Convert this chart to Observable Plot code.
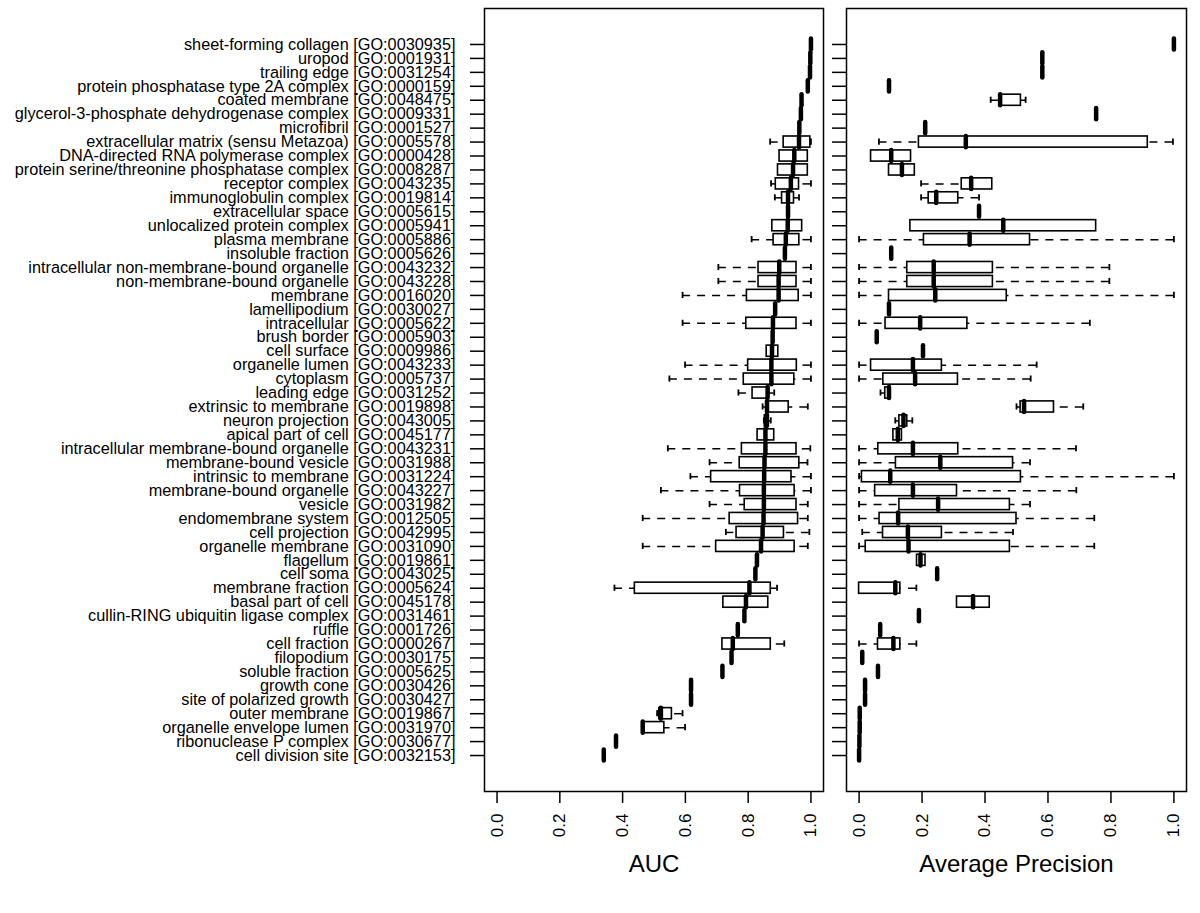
<!DOCTYPE html>
<html>
<head>
<meta charset="utf-8">
<script src="https://cdn.jsdelivr.net/npm/d3@7"></script>
<script src="https://cdn.jsdelivr.net/npm/@observablehq/plot@0.6"></script>
<style>
  html, body { margin: 0; padding: 0; background: white; }
  #wrap { position: relative; width: 1200px; height: 913px; font-family: 'Liberation Sans', Arial, sans-serif; }
  #left, #right { position: absolute; top: 0; }
  #left { left: 0; }
  #right { left: 820px; }
</style>
</head>
<body>
<div id="wrap"><div id="left"></div><div id="right"></div></div>
<script>
const categories = [
  "sheet-forming collagen [GO:0030935]",
  "uropod [GO:0001931]",
  "trailing edge [GO:0031254]",
  "protein phosphatase type 2A complex [GO:0000159]",
  "coated membrane [GO:0048475]",
  "glycerol-3-phosphate dehydrogenase complex [GO:0009331]",
  "microfibril [GO:0001527]",
  "extracellular matrix (sensu Metazoa) [GO:0005578]",
  "DNA-directed RNA polymerase complex [GO:0000428]",
  "protein serine/threonine phosphatase complex [GO:0008287]",
  "receptor complex [GO:0043235]",
  "immunoglobulin complex [GO:0019814]",
  "extracellular space [GO:0005615]",
  "unlocalized protein complex [GO:0005941]",
  "plasma membrane [GO:0005886]",
  "insoluble fraction [GO:0005626]",
  "intracellular non-membrane-bound organelle [GO:0043232]",
  "non-membrane-bound organelle [GO:0043228]",
  "membrane [GO:0016020]",
  "lamellipodium [GO:0030027]",
  "intracellular [GO:0005622]",
  "brush border [GO:0005903]",
  "cell surface [GO:0009986]",
  "organelle lumen [GO:0043233]",
  "cytoplasm [GO:0005737]",
  "leading edge [GO:0031252]",
  "extrinsic to membrane [GO:0019898]",
  "neuron projection [GO:0043005]",
  "apical part of cell [GO:0045177]",
  "intracellular membrane-bound organelle [GO:0043231]",
  "membrane-bound vesicle [GO:0031988]",
  "intrinsic to membrane [GO:0031224]",
  "membrane-bound organelle [GO:0043227]",
  "vesicle [GO:0031982]",
  "endomembrane system [GO:0012505]",
  "cell projection [GO:0042995]",
  "organelle membrane [GO:0031090]",
  "flagellum [GO:0019861]",
  "cell soma [GO:0043025]",
  "membrane fraction [GO:0005624]",
  "basal part of cell [GO:0045178]",
  "cullin-RING ubiquitin ligase complex [GO:0031461]",
  "ruffle [GO:0001726]",
  "cell fraction [GO:0000267]",
  "filopodium [GO:0030175]",
  "soluble fraction [GO:0005625]",
  "growth cone [GO:0030426]",
  "site of polarized growth [GO:0030427]",
  "outer membrane [GO:0019867]",
  "organelle envelope lumen [GO:0031970]",
  "ribonuclease P complex [GO:0030677]",
  "cell division site [GO:0032153]"
];

// AUC box statistics (null = not drawn)
const aucMed = [1.0,0.998,0.997,0.99,0.97,0.968,0.963,0.962,0.947,0.943,0.936,0.927,0.927,0.926,0.92,0.917,0.899,0.897,0.897,0.886,0.879,0.878,0.876,0.874,0.874,0.862,0.86,0.859,0.855,0.855,0.852,0.851,0.85,0.85,0.849,0.846,0.841,0.828,0.823,0.804,0.793,0.788,0.767,0.751,0.747,0.718,0.618,0.618,0.522,0.464,0.379,0.340];
const aucQ1  = [null,null,null,null,null,null,null,0.913,0.90,0.895,0.888,0.908,null,0.877,0.881,null,0.833,0.833,0.796,null,0.794,null,0.859,0.80,0.786,0.814,0.86,0.853,0.830,0.780,0.773,0.682,0.774,0.789,0.741,0.763,0.698,null,null,0.439,0.721,null,null,0.718,null,null,null,null,0.517,0.464,null,null];
const aucQ3  = [null,null,null,null,null,null,null,0.998,0.99,0.99,0.962,0.946,null,0.972,0.963,null,0.954,0.954,0.961,null,0.954,null,0.896,0.955,0.947,0.864,0.929,0.866,0.883,0.954,0.963,0.938,0.948,0.954,0.959,0.914,0.948,null,null,0.872,0.864,null,null,0.872,null,null,null,null,0.557,0.533,null,null];
const aucLo  = [null,null,null,null,null,null,null,0.87,null,null,0.873,0.885,null,null,0.811,null,0.705,0.705,0.591,null,0.591,null,null,0.599,0.549,0.769,0.846,0.85,null,0.544,0.677,0.616,0.522,0.677,0.464,0.729,0.464,null,null,0.374,null,null,null,null,null,null,null,null,0.51,null,null,null];
const aucHi  = [null,null,null,null,null,null,null,1.0,null,null,1.0,0.962,null,null,1.0,null,1.0,1.0,1.0,null,1.0,null,null,1.0,1.0,0.883,0.99,0.872,null,0.998,0.989,1.0,1.0,0.99,0.99,0.995,0.99,null,null,0.892,null,null,null,0.915,null,null,null,null,0.591,0.599,null,null];

// Average precision box statistics
const apMed = [1.0,0.582,0.582,0.095,0.448,0.753,0.21,0.339,0.102,0.136,0.356,0.245,0.381,0.458,0.351,0.102,0.237,0.237,0.242,0.095,0.194,0.056,0.203,0.171,0.178,0.095,0.524,0.141,0.123,0.171,0.258,0.099,0.171,0.251,0.124,0.155,0.157,0.195,0.248,0.115,0.362,0.19,0.067,0.109,0.01,0.06,0.019,0.019,0.002,0.002,0.001,0.0];
const apQ1  = [null,null,null,null,0.448,null,null,0.19,0.038,0.095,0.326,0.221,null,0.163,0.206,null,0.153,0.153,0.095,null,0.084,null,null,0.038,0.077,0.083,0.513,0.128,0.109,0.061,0.117,0.009,0.051,0.128,0.065,0.076,0.021,0.184,null,0.0,0.311,null,null,0.06,null,null,null,null,null,null,null,null];
const apQ3  = [null,null,null,null,0.514,null,null,0.917,0.165,0.177,0.423,0.315,null,0.753,0.543,null,0.425,0.425,0.469,null,0.344,null,null,0.263,0.314,0.097,0.619,0.153,0.136,0.315,0.489,0.514,0.311,0.479,0.5,0.263,0.479,0.211,null,0.131,0.415,null,null,0.131,null,null,null,null,null,null,null,null];
const apLo  = [null,null,null,null,0.418,null,null,0.063,null,null,0.197,0.197,null,null,0.0,null,0.0,0.0,0.0,null,0.0,null,null,0.0,0.0,0.068,0.5,0.115,null,0.0,0.0,0.0,0.0,0.0,0.0,0.01,0.0,null,null,null,null,null,null,0.0,null,null,null,null,null,null,null,null];
const apHi  = [null,null,null,null,0.529,null,null,0.997,null,null,null,0.381,null,null,1.0,null,0.795,0.795,1.0,null,0.733,null,null,0.564,0.545,null,0.712,0.169,null,0.689,0.543,1.0,0.69,0.543,0.747,0.489,0.747,null,null,0.182,null,null,null,0.182,null,null,null,null,null,null,null,null];

const xTicks = [0, 0.2, 0.4, 0.6, 0.8, 1.0];

const n = categories.length;
const positions = categories.map((c, i) => n - i);

function makeRows(med, q1, q3, lo, hi) {
  return categories.map((c, i) => ({cat: c, pos: n - i, med: med[i], q1: q1[i], q3: q3[i], lo: lo[i], hi: hi[i]}));
}

const font = "'Liberation Sans', Arial, sans-serif";
const H = 0.4;   // half box width (boxwex 0.8)
const S = 0.22;  // half staple width

function panel(rows, opts) {
  const boxes = rows.filter(d => d.q1 != null);
  const lows = rows.filter(d => d.lo != null);
  const highs = rows.filter(d => d.hi != null);
  return Plot.plot({
    width: opts.width,
    height: 913,
    marginLeft: opts.marginLeft,
    marginRight: opts.marginRight,
    marginTop: 8,
    marginBottom: 122,
    style: {background: "transparent", overflow: "visible", fontFamily: font, color: "black"},
    x: {domain: [-0.04, 1.04]},
    y: {domain: [0.5 - 0.04 * n, n + 0.5 + 0.04 * n]},
    marks: [
      Plot.frame({stroke: "black", strokeWidth: 1.5}),
      Plot.axisX({ticks: xTicks, tickFormat: d3.format(".1f"), tickRotate: -90, tickSize: 12, tickPadding: 10, fontSize: 17, label: null, strokeWidth: 1.5}),
      Plot.axisY({ticks: positions, tickSize: 14, tickPadding: opts.labels ? 15 : 0,
        tickFormat: opts.labels ? (p => categories[n - p]) : (() => ""), fontSize: 16.3, label: null, strokeWidth: 1.5}),
      Plot.ruleY(lows, {y: "pos", x1: "lo", x2: "q1", stroke: "black", strokeWidth: 1.5, strokeDasharray: "8,7"}),
      Plot.ruleY(highs, {y: "pos", x1: "hi", x2: "q3", stroke: "black", strokeWidth: 1.5, strokeDasharray: "8,7"}),
      Plot.ruleX(lows, {x: "lo", y1: d => d.pos - S, y2: d => d.pos + S, stroke: "black", strokeWidth: 1.8}),
      Plot.ruleX(highs, {x: "hi", y1: d => d.pos - S, y2: d => d.pos + S, stroke: "black", strokeWidth: 1.8}),
      Plot.rect(boxes, {x1: "q1", x2: "q3", y1: d => d.pos - H, y2: d => d.pos + H, fill: "white", stroke: "black", strokeWidth: 1.6}),
      Plot.ruleX(rows, {x: "med", y1: d => d.pos - H, y2: d => d.pos + H, stroke: "black", strokeWidth: 4.5, strokeLinecap: "round"}),
      Plot.text([opts.title], {text: d => d, frameAnchor: "bottom", dy: 80, fontSize: 24, fill: "black"})
    ]
  });
}

document.getElementById("left").append(panel(makeRows(aucMed, aucQ1, aucQ3, aucLo, aucHi),
  {width: 834, marginLeft: 484, marginRight: 11, labels: true, title: "AUC"}));
document.getElementById("right").append(panel(makeRows(apMed, apQ1, apQ3, apLo, apHi),
  {width: 380, marginLeft: 26, marginRight: 14, labels: false, title: "Average Precision"}));
</script>
</body>
</html>
